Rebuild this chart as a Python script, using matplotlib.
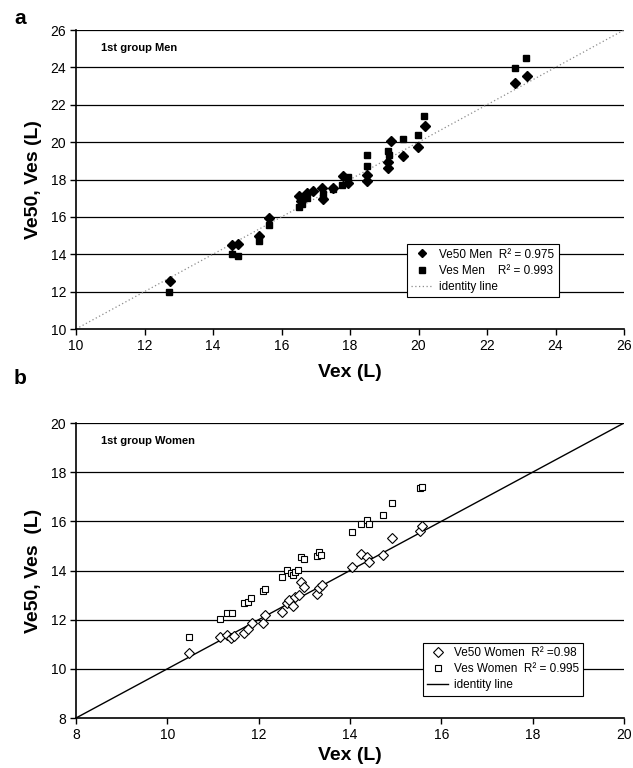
import matplotlib
matplotlib.use("Agg")
import matplotlib.pyplot as plt
from matplotlib.lines import Line2D

plt.rcParams['font.family'] = ['Liberation Sans', 'DejaVu Sans']

# ---- Panel a: 1st group Men ----
men_ve50_x = [12.74, 14.55, 14.74, 15.35, 15.64, 16.52, 16.57, 16.75, 16.93, 17.17, 17.22, 17.51,
              17.80, 17.95, 18.49, 18.49, 19.10, 19.12, 19.20, 19.56, 19.99, 20.18, 22.82, 23.16]
men_ve50_y = [12.59, 14.47, 14.54, 14.98, 15.93, 17.10, 16.83, 17.26, 17.36, 17.57, 16.95, 17.54,
              18.18, 17.80, 18.26, 17.90, 18.62, 18.92, 20.04, 19.28, 19.73, 20.85, 23.14, 23.53]
men_ves_x = [12.72, 14.55, 14.72, 15.35, 15.64, 16.52, 16.59, 16.75, 17.20, 17.51, 17.78, 17.95,
             18.49, 18.49, 19.10, 19.15, 19.56, 19.99, 20.16, 22.82, 23.14]
men_ves_y = [11.97, 14.02, 13.90, 14.73, 15.58, 16.53, 16.70, 17.00, 17.24, 17.50, 17.72, 18.13,
             18.70, 19.33, 19.50, 19.33, 20.17, 20.37, 21.38, 23.98, 24.49]
men_ticks = [10, 12, 14, 16, 18, 20, 22, 24, 26]
men_labels = ["Ve50 Men  R\u00b2 = 0.975", "Ves Men    R\u00b2 = 0.993", "identity line"]

# ---- Panel b: 1st group Women ----
wom_ve50_x = [10.48, 11.15, 11.30, 11.40, 11.45, 11.68, 11.77, 11.85, 12.09, 12.13, 12.52, 12.63,
              12.67, 12.75, 12.79, 12.88, 12.92, 13.00, 13.28, 13.32, 13.38, 14.05, 14.23, 14.38,
              14.41, 14.73, 14.91, 15.54, 15.58]
wom_ve50_y = [10.64, 11.29, 11.38, 11.25, 11.35, 11.47, 11.62, 11.85, 11.85, 12.19, 12.30, 12.69,
              12.80, 12.57, 12.91, 13.00, 13.54, 13.31, 13.04, 13.27, 13.39, 14.13, 14.67, 14.53,
              14.35, 14.62, 15.34, 15.61, 15.80]
wom_ves_x = [10.48, 11.15, 11.30, 11.42, 11.68, 11.77, 11.84, 12.09, 12.13, 12.52, 12.63, 12.70,
             12.76, 12.79, 12.87, 12.92, 13.00, 13.28, 13.32, 13.36, 14.05, 14.23, 14.38, 14.41,
             14.73, 14.91, 15.54, 15.58]
wom_ves_y = [11.31, 12.02, 12.28, 12.28, 12.66, 12.72, 12.88, 13.18, 13.26, 13.72, 14.02, 13.88,
             13.81, 13.95, 14.02, 14.56, 14.45, 14.58, 14.76, 14.65, 15.57, 15.91, 16.07, 15.88,
             16.25, 16.75, 17.37, 17.40]
wom_ticks = [8, 10, 12, 14, 16, 18, 20]
wom_labels = ["Ve50 Women  R\u00b2 =0.98", "Ves Women  R\u00b2 = 0.995", "identity line"]

W, H = 633, 768
fig = plt.figure(figsize=(W / 100, H / 100), dpi=100)


def px_axes(l, r, t, b):
    return fig.add_axes([l / W, 1 - b / H, (r - l) / W, (b - t) / H])


def style(ax, ticks, ylabel, xpad):
    ax.set_xlim(ticks[0], ticks[-1])
    ax.set_ylim(ticks[0], ticks[-1])
    ax.set_xticks(ticks)
    ax.set_yticks(ticks)
    for s in ['top', 'right']:
        ax.spines[s].set_visible(False)
    for s in ['left', 'bottom']:
        ax.spines[s].set_linewidth(1.2)
        ax.spines[s].set_color('black')
    ax.tick_params(direction='out', length=4, width=1, labelsize=10, pad=3)
    for t in ticks[1:]:
        ax.axhline(t, color='black', lw=0.9, zorder=1)
    ax.set_xlabel("Vex (L)", fontsize=14, fontweight='bold', labelpad=xpad)
    ax.set_ylabel(ylabel, fontsize=14, fontweight='bold', labelpad=6)


# Panel a
ax1 = px_axes(76, 624, 30, 329)
style(ax1, men_ticks, "Ve50, Ves (L)", 8)
ax1.plot([men_ticks[0], men_ticks[-1]], [men_ticks[0], men_ticks[-1]], color='#8c8c8c',
         lw=0.9, ls=(0, (1, 2)), zorder=2)
ax1.plot(men_ves_x, men_ves_y, ls='none', marker='s', ms=4.4, mfc='black', mec='black', zorder=3)
ax1.plot(men_ve50_x, men_ve50_y, ls='none', marker='D', ms=4.8, mfc='black', mec='black', zorder=4)
ax1.text(0.045, 0.94, "1st group Men", transform=ax1.transAxes, fontsize=8,
         fontweight='bold', va='center', ha='left')
h1 = [Line2D([], [], ls='none', marker='D', ms=4.4, color='black'),
      Line2D([], [], ls='none', marker='s', ms=4.0, color='black'),
      Line2D([], [], color='#8c8c8c', lw=0.9, ls=(0, (1, 2)))]
leg1 = ax1.legend(h1, men_labels, loc='lower left', bbox_to_anchor=(0.604, 0.107),
                  fontsize=8.5, frameon=True, fancybox=False, framealpha=1,
                  edgecolor='black', borderpad=0.35, handlelength=1.8,
                  handletextpad=0.6, labelspacing=0.35, borderaxespad=0)
leg1.get_frame().set_linewidth(0.8)
leg1.set_zorder(10)

# Panel b
ax2 = px_axes(76, 624, 423, 718)
style(ax2, wom_ticks, "Ve50, Ves  (L)", 4)
ax2.plot([wom_ticks[0], wom_ticks[-1]], [wom_ticks[0], wom_ticks[-1]], color='black',
         lw=1.0, zorder=2)
ax2.plot(wom_ves_x, wom_ves_y, ls='none', marker='s', ms=4.2, mfc='white', mec='black',
         mew=0.8, zorder=3)
ax2.plot(wom_ve50_x, wom_ve50_y, ls='none', marker='D', ms=4.8, mfc='white', mec='black',
         mew=0.8, zorder=4)
ax2.text(0.045, 0.94, "1st group Women", transform=ax2.transAxes, fontsize=8,
         fontweight='bold', va='center', ha='left')
h2 = [Line2D([], [], ls='none', marker='D', ms=4.8, mfc='white', mec='black', mew=0.8),
      Line2D([], [], ls='none', marker='s', ms=4.2, mfc='white', mec='black', mew=0.8),
      Line2D([], [], color='black', lw=1.0)]
leg2 = ax2.legend(h2, wom_labels, loc='lower left', bbox_to_anchor=(0.633, 0.076),
                  fontsize=8.5, frameon=True, fancybox=False, framealpha=1,
                  edgecolor='black', borderpad=0.35, handlelength=1.8,
                  handletextpad=0.5, labelspacing=0.35, borderaxespad=0)
leg2.get_frame().set_linewidth(0.8)
leg2.set_zorder(10)

fig.text(14 / W, 1 - 18 / H, "a", fontsize=15, fontweight='bold', va='center', ha='left')
fig.text(14 / W, 1 - 378 / H, "b", fontsize=15, fontweight='bold', va='center', ha='left')

fig.savefig("out.png", dpi=100)
